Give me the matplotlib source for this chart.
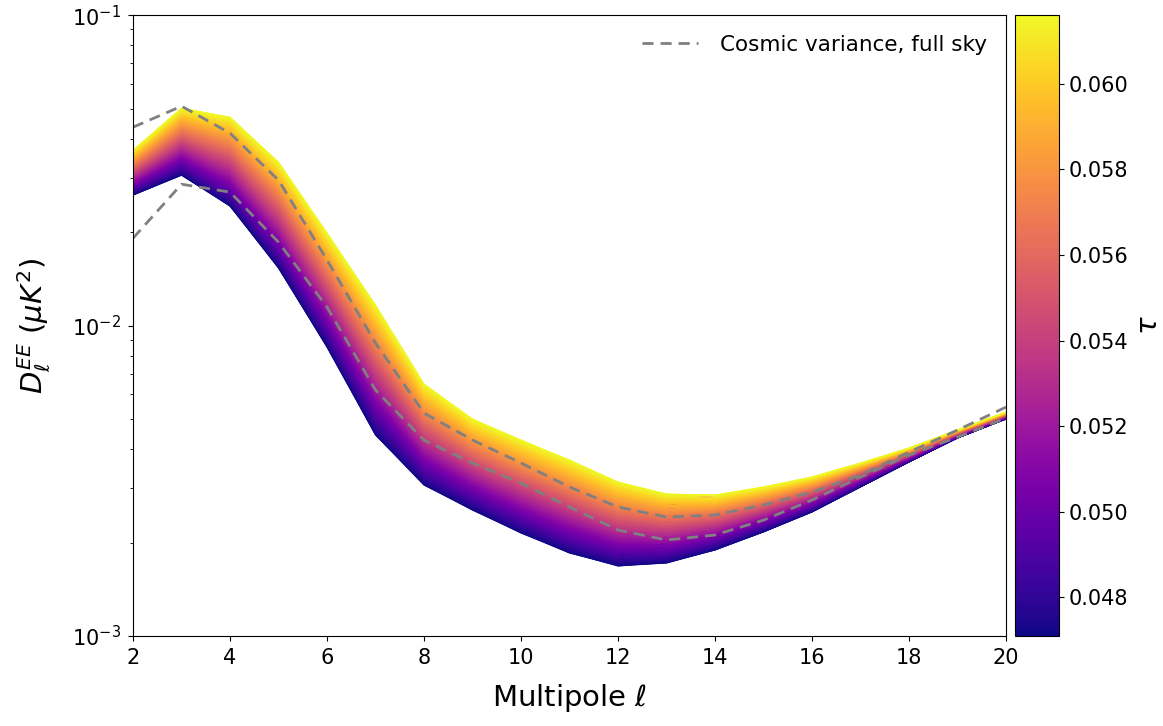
import numpy as np
import matplotlib
matplotlib.use('Agg')
import matplotlib.pyplot as plt

# multipoles
ell = np.arange(2, 21)

# edges of the tau family
tau_min, tau_max = 0.0471, 0.0616
band_lo = [0.02633, 0.03052, 0.02426, 0.01532, 0.008524, 0.004440, 0.003064,
           0.002545, 0.002147, 0.001851, 0.001681, 0.001718, 0.001892,
           0.002163, 0.002508, 0.003020, 0.003635, 0.004343, 0.005000]
band_hi = [0.03674, 0.05018, 0.04693, 0.03362, 0.01986, 0.01164, 0.006481,
           0.005000, 0.004278, 0.003688, 0.003133, 0.002866, 0.002845,
           0.003020, 0.003252, 0.003608, 0.004032, 0.004607, 0.005264]

# cosmic variance bounds
cv_hi = [0.04358, 0.05093, 0.04169, 0.02941, 0.01626, 0.008781, 0.005226,
         0.004278, 0.003608, 0.003020, 0.002603, 0.002416, 0.002453,
         0.002642, 0.002909, 0.003300, 0.003913, 0.004607, 0.005463]
cv_lo = [0.01913, 0.02855, 0.02692, 0.01857, 0.01147, 0.006199, 0.004278,
         0.003608, 0.003110, 0.002603, 0.002195, 0.002038, 0.002115,
         0.002362, 0.002742, 0.003252, 0.003827, 0.004375, 0.005037]

cbar_ticks = [0.048, 0.050, 0.052, 0.054, 0.056, 0.058, 0.060]

fig = plt.figure(figsize=(11.63, 7.26), dpi=100)
ax = fig.add_axes([0.1144, 0.124, 0.7506, 0.855])
cax = fig.add_axes([0.8727, 0.124, 0.0378, 0.855])

ax.set_yscale('log')

# gradient band between the lowest and highest tau curve
lo = np.array(band_lo)
hi = np.array(band_hi)
frac = np.linspace(0, 1, 120)[:, None]
X = np.tile(ell, (frac.shape[0], 1))
Y = lo * (hi / lo) ** frac
C = np.tile(tau_min + frac * (tau_max - tau_min), (1, len(ell)))
mesh = ax.pcolormesh(X, Y, C, cmap='plasma', shading='gouraud',
                     vmin=tau_min, vmax=tau_max, antialiased=True)

ax.plot(ell, cv_hi, '--', color='gray', lw=2, dashes=(4, 2.5),
        label='Cosmic variance, full sky')
ax.plot(ell, cv_lo, '--', color='gray', lw=2, dashes=(4, 2.5))

ax.set_xlim(2, 20)
ax.set_ylim(1e-3, 1e-1)
ax.set_xticks(range(2, 21, 2))
ax.tick_params(labelsize=15, pad=5)
ax.set_xlabel(r'Multipole $\ell$', fontsize=21, labelpad=10)
ax.set_ylabel(r'$D_\ell^{EE}$ $(\mu K^2)$', fontsize=21, labelpad=14)
ax.legend(loc='upper right', frameon=False, fontsize=15.5,
          handlelength=2.6, handletextpad=1.0)

cbar = fig.colorbar(mesh, cax=cax, ticks=cbar_ticks)
cbar.ax.set_yticklabels(['%.3f' % t for t in cbar_ticks])
cbar.ax.tick_params(labelsize=15)
cbar.set_label(r'$\tau$', fontsize=21, labelpad=5)

fig.savefig('out.png', dpi=100)
